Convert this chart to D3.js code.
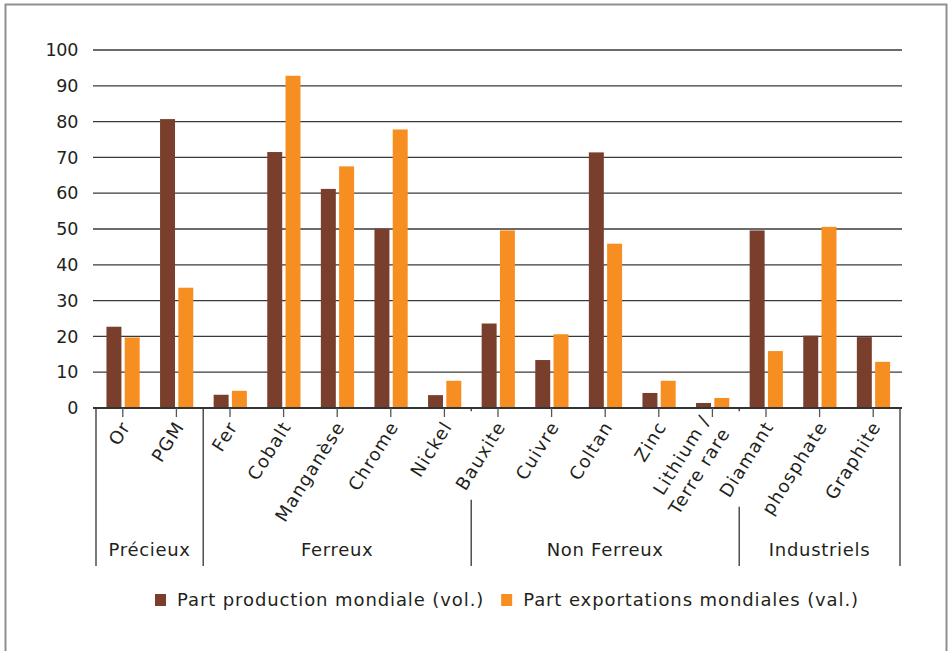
<!DOCTYPE html>
<html>
<head>
<meta charset="utf-8">
<script src="https://cdn.jsdelivr.net/npm/d3@7"></script>
<style>
  html, body { margin: 0; padding: 0; background: #fff; }
  svg { display: block; }
  text { font-family: "DejaVu Sans", sans-serif; fill: #231f20; }
</style>
</head>
<body>
<svg id="chart" width="949" height="651"></svg>
<script>
// ---- data ----
const categories = ["Or", "PGM", "Fer", "Cobalt", "Manganèse", "Chrome", "Nickel",
  "Bauxite", "Cuivre", "Coltan", "Zinc", "Lithium /\nTerre rare", "Diamant", "phosphate", "Graphite"];
const groups = ["Précieux", "Ferreux", "Non Ferreux", "Industriels"];
const groupOf = [0, 0, 1, 1, 1, 1, 1, 2, 2, 2, 2, 2, 3, 3, 3];
const seriesNames = ["Part production mondiale (vol.)", "Part exportations mondiales (val.)"];
const production = [22.7, 80.7, 3.7, 71.5, 61.2, 50.1, 3.6, 23.6, 13.4, 71.4, 4.2, 1.4, 49.6, 20.2, 19.8];
const exportations = [19.7, 33.6, 4.8, 92.8, 67.5, 77.8, 7.6, 49.6, 20.6, 45.9, 7.6, 2.8, 15.9, 50.6, 12.9];
const yTicks = [0, 10, 20, 30, 40, 50, 60, 70, 80, 90, 100];
const colors = ["#7a3f2c", "#f68e21"];

// ---- layout ----
const FS = 18;
const svg = d3.select("#chart");
const plot = { left: 93, right: 902, top: 50, bottom: 408 };

svg.append("rect").attr("x", 5.5).attr("y", 4.5).attr("width", 941).attr("height", 700)
  .attr("fill", "#fff").attr("stroke", "#8f8f8f").attr("stroke-width", 2);

const x = d3.scaleBand().domain(d3.range(categories.length)).range([96, 900]).paddingInner(0).paddingOuter(0);
const bw = x.bandwidth();
const x1 = d3.scaleBand().domain([0, 1]).range([bw * 0.195, bw * 0.815]).paddingInner(0.18);
const y = d3.scaleLinear().domain([0, 100]).range([plot.bottom, plot.top]);

// gridlines
svg.append("g").selectAll("line").data(yTicks.filter(d => d > 0)).join("line")
  .attr("x1", plot.left).attr("x2", plot.right)
  .attr("y1", d => y(d)).attr("y2", d => y(d))
  .attr("stroke", "#3a3a3a").attr("stroke-width", 1.3);

// y axis labels
const yAxis = d3.axisLeft(y).tickValues(yTicks).tickSize(0).tickPadding(0);
const gy = svg.append("g").attr("transform", `translate(78,0)`).call(yAxis);
gy.select(".domain").remove();
gy.selectAll("text").attr("font-size", 17.5).attr("font-family", "'DejaVu Sans', sans-serif")
  .attr("fill", "#231f20").attr("letter-spacing", -0.3);

// bars
const seriesData = [production, exportations];
seriesData.forEach((vals, s) => {
  svg.append("g").selectAll("rect").data(vals).join("rect")
    .attr("x", (d, i) => x(i) + x1(s))
    .attr("width", x1.bandwidth())
    .attr("y", d => y(d))
    .attr("height", d => y(0) - y(d))
    .attr("fill", colors[s]);
});

// baseline axis
svg.append("line").attr("x1", plot.left).attr("x2", plot.right)
  .attr("y1", y(0)).attr("y2", y(0)).attr("stroke", "#333").attr("stroke-width", 2);

// category ticks
svg.append("g").selectAll("line").data(d3.range(categories.length)).join("line")
  .attr("x1", i => x(i) + bw / 2).attr("x2", i => x(i) + bw / 2)
  .attr("y1", y(0)).attr("y2", y(0) + 9)
  .attr("stroke", "#555").attr("stroke-width", 1.3);

// category labels (rotated)
const labelG = svg.append("g");
const labels = labelG.selectAll("text").data(categories).join("text")
  .attr("transform", (d, i) => `translate(${x(i) + bw / 2 + 3},${y(0) + 15}) rotate(-58)`)
  .attr("text-anchor", "end")
  .attr("font-size", FS)
  .attr("letter-spacing", 1.2);
labels.each(function (d) {
  const lines = d.split("\n");
  const t = d3.select(this);
  lines.forEach((ln, k) => {
    t.append("tspan").attr("x", 0)
      .attr("dy", k === 0 ? `${0.35 - (lines.length - 1) * 0.65}em` : "1.3em")
      .text(ln);
  });
});

// group separators, broken where a label box crosses them
const svgRect = document.getElementById("chart").getBoundingClientRect();
const boxes = [];
labels.each(function () {
  const r = this.getBoundingClientRect();
  boxes.push({ x0: r.left - svgRect.left, x1: r.right - svgRect.left, y0: r.top - svgRect.top, y1: r.bottom - svgRect.top });
});
const groupStarts = [];
groups.forEach((g, gi) => {
  const idx = groupOf.map((v, i) => v === gi ? i : -1).filter(i => i >= 0);
  groupStarts.push({ g, first: idx[0], last: idx[idx.length - 1] });
});
const sepXs = groupStarts.map(d => x(d.first)).concat([x(categories.length - 1) + bw]);
const sepBottom = 566;
sepXs.forEach(sx => {
  let segs = [[y(0), sepBottom]];
  boxes.forEach(b => {
    if (sx > b.x0 + 3 && sx < b.x1 - 3) {
      const out = [];
      segs.forEach(([a, c]) => {
        if (b.y1 <= a || b.y0 >= c) { out.push([a, c]); return; }
        if (b.y0 > a) out.push([a, b.y0 - 6]);
        if (b.y1 < c) out.push([b.y1 + 6, c]);
      });
      segs = out;
    }
  });
  segs.forEach(([a, c]) => {
    svg.append("line").attr("x1", sx).attr("x2", sx).attr("y1", a).attr("y2", c)
      .attr("stroke", "#333").attr("stroke-width", 1.3);
  });
});

// group labels
svg.append("g").selectAll("text").data(groupStarts).join("text")
  .attr("x", d => (x(d.first) + x(d.last) + bw) / 2)
  .attr("y", 556)
  .attr("text-anchor", "middle")
  .attr("font-size", FS)
  .attr("letter-spacing", 0.7)
  .text(d => d.g);

// legend
const leg = svg.append("g");
let cx = 0;
seriesNames.forEach((n, s) => {
  const g = leg.append("g").attr("transform", `translate(${cx},0)`);
  g.append("rect").attr("x", 0).attr("y", -6).attr("width", 11).attr("height", 12).attr("fill", colors[s]);
  const t = g.append("text").attr("x", 22).attr("y", 0).attr("dy", "0.35em").attr("font-size", FS)
    .attr("letter-spacing", 0.9).text(n);
  const w = t.node().getComputedTextLength();
  cx += 22 + w + 17;
});
const total = cx - 17;
leg.attr("transform", `translate(${507 - total / 2},600)`);
</script>
</body>
</html>
